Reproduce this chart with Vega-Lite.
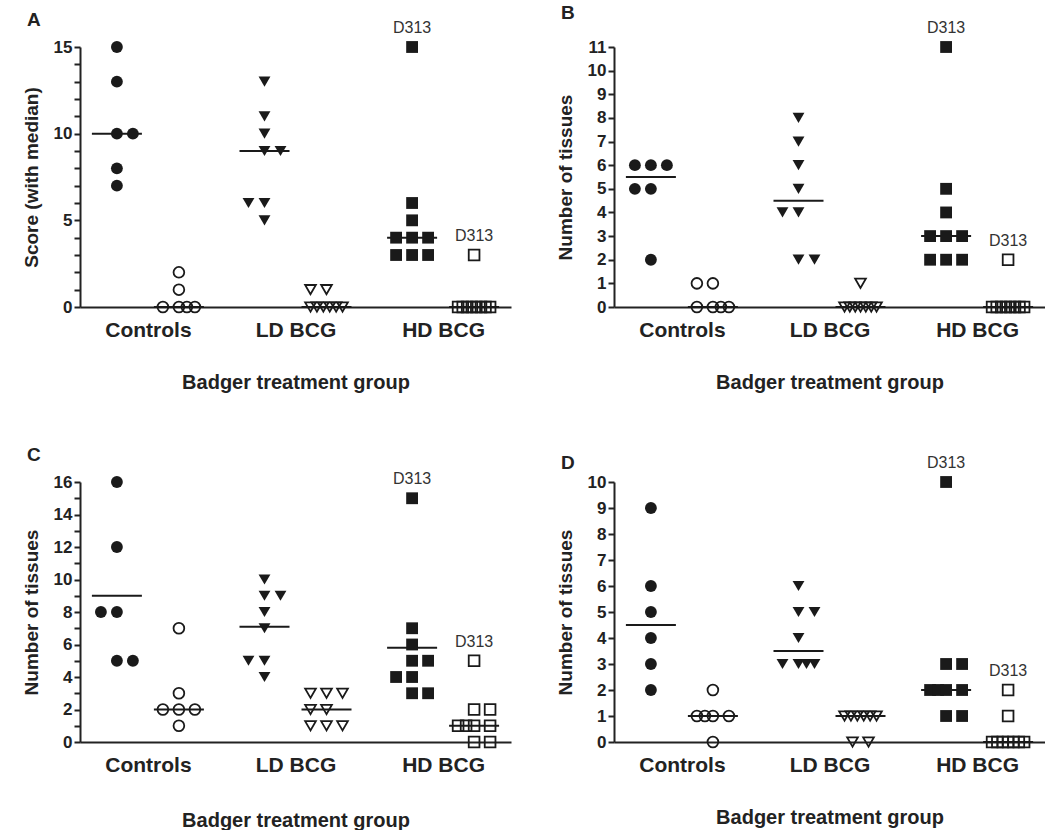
{
  "$schema": "https://vega.github.io/schema/vega-lite/v6.json",
  "padding": {"left": 22, "top": 4, "right": 0, "bottom": 0},
  "background": "white",
  "config": {
    "view": {"stroke": null},
    "axis": {"domainColor": "#222", "domainWidth": 2, "tickColor": "#222", "tickWidth": 2, "tickSize": 6, "labelFont": "Liberation Sans", "labelFontWeight": "bold", "labelColor": "#222", "titleFont": "Liberation Sans", "titleFontWeight": "bold", "titleColor": "#222", "grid": false},
    "title": {"font": "Liberation Sans", "fontWeight": "bold", "fontSize": 19, "anchor": "start", "frame": "group", "color": "#222", "dx": -53}
  },
  "datasets": {
    "points": [
      {"panel":"A","group":"Controls","subset":"s1","value":15,"tie":0},
      {"panel":"A","group":"Controls","subset":"s1","value":13,"tie":0},
      {"panel":"A","group":"Controls","subset":"s1","value":10,"tie":0},
      {"panel":"A","group":"Controls","subset":"s1","value":10,"tie":1},
      {"panel":"A","group":"Controls","subset":"s1","value":8,"tie":0},
      {"panel":"A","group":"Controls","subset":"s1","value":7,"tie":0},
      {"panel":"A","group":"Controls","subset":"s2","value":2,"tie":0},
      {"panel":"A","group":"Controls","subset":"s2","value":1,"tie":0},
      {"panel":"A","group":"Controls","subset":"s2","value":0,"tie":-1},
      {"panel":"A","group":"Controls","subset":"s2","value":0,"tie":0},
      {"panel":"A","group":"Controls","subset":"s2","value":0,"tie":0.5},
      {"panel":"A","group":"Controls","subset":"s2","value":0,"tie":1},
      {"panel":"A","group":"LD BCG","subset":"s1","value":13,"tie":0},
      {"panel":"A","group":"LD BCG","subset":"s1","value":11,"tie":0},
      {"panel":"A","group":"LD BCG","subset":"s1","value":10,"tie":0},
      {"panel":"A","group":"LD BCG","subset":"s1","value":9,"tie":0},
      {"panel":"A","group":"LD BCG","subset":"s1","value":9,"tie":1},
      {"panel":"A","group":"LD BCG","subset":"s1","value":6,"tie":-1},
      {"panel":"A","group":"LD BCG","subset":"s1","value":6,"tie":0},
      {"panel":"A","group":"LD BCG","subset":"s1","value":5,"tie":0},
      {"panel":"A","group":"LD BCG","subset":"s2","value":1,"tie":-1},
      {"panel":"A","group":"LD BCG","subset":"s2","value":1,"tie":0},
      {"panel":"A","group":"LD BCG","subset":"s2","value":0,"tie":-1},
      {"panel":"A","group":"LD BCG","subset":"s2","value":0,"tie":-0.6},
      {"panel":"A","group":"LD BCG","subset":"s2","value":0,"tie":-0.2},
      {"panel":"A","group":"LD BCG","subset":"s2","value":0,"tie":0.2},
      {"panel":"A","group":"LD BCG","subset":"s2","value":0,"tie":0.6},
      {"panel":"A","group":"LD BCG","subset":"s2","value":0,"tie":1},
      {"panel":"A","group":"HD BCG","subset":"s1","value":15,"tie":0,"animal":"D313"},
      {"panel":"A","group":"HD BCG","subset":"s1","value":6,"tie":0},
      {"panel":"A","group":"HD BCG","subset":"s1","value":5,"tie":0},
      {"panel":"A","group":"HD BCG","subset":"s1","value":4,"tie":-1},
      {"panel":"A","group":"HD BCG","subset":"s1","value":4,"tie":0},
      {"panel":"A","group":"HD BCG","subset":"s1","value":4,"tie":1},
      {"panel":"A","group":"HD BCG","subset":"s1","value":3,"tie":-1},
      {"panel":"A","group":"HD BCG","subset":"s1","value":3,"tie":0},
      {"panel":"A","group":"HD BCG","subset":"s1","value":3,"tie":1},
      {"panel":"A","group":"HD BCG","subset":"s2","value":3,"tie":0,"animal":"D313"},
      {"panel":"A","group":"HD BCG","subset":"s2","value":0,"tie":-1},
      {"panel":"A","group":"HD BCG","subset":"s2","value":0,"tie":-0.71},
      {"panel":"A","group":"HD BCG","subset":"s2","value":0,"tie":-0.43},
      {"panel":"A","group":"HD BCG","subset":"s2","value":0,"tie":-0.14},
      {"panel":"A","group":"HD BCG","subset":"s2","value":0,"tie":0.14},
      {"panel":"A","group":"HD BCG","subset":"s2","value":0,"tie":0.43},
      {"panel":"A","group":"HD BCG","subset":"s2","value":0,"tie":0.71},
      {"panel":"A","group":"HD BCG","subset":"s2","value":0,"tie":1},

      {"panel":"B","group":"Controls","subset":"s1","value":6,"tie":-1},
      {"panel":"B","group":"Controls","subset":"s1","value":6,"tie":0},
      {"panel":"B","group":"Controls","subset":"s1","value":6,"tie":1},
      {"panel":"B","group":"Controls","subset":"s1","value":5,"tie":-1},
      {"panel":"B","group":"Controls","subset":"s1","value":5,"tie":0},
      {"panel":"B","group":"Controls","subset":"s1","value":2,"tie":0},
      {"panel":"B","group":"Controls","subset":"s2","value":1,"tie":-1},
      {"panel":"B","group":"Controls","subset":"s2","value":1,"tie":0},
      {"panel":"B","group":"Controls","subset":"s2","value":0,"tie":-1},
      {"panel":"B","group":"Controls","subset":"s2","value":0,"tie":0},
      {"panel":"B","group":"Controls","subset":"s2","value":0,"tie":0.5},
      {"panel":"B","group":"Controls","subset":"s2","value":0,"tie":1},
      {"panel":"B","group":"LD BCG","subset":"s1","value":8,"tie":0},
      {"panel":"B","group":"LD BCG","subset":"s1","value":7,"tie":0},
      {"panel":"B","group":"LD BCG","subset":"s1","value":6,"tie":0},
      {"panel":"B","group":"LD BCG","subset":"s1","value":5,"tie":0},
      {"panel":"B","group":"LD BCG","subset":"s1","value":4,"tie":-1},
      {"panel":"B","group":"LD BCG","subset":"s1","value":4,"tie":0},
      {"panel":"B","group":"LD BCG","subset":"s1","value":2,"tie":0},
      {"panel":"B","group":"LD BCG","subset":"s1","value":2,"tie":1},
      {"panel":"B","group":"LD BCG","subset":"s2","value":1,"tie":0},
      {"panel":"B","group":"LD BCG","subset":"s2","value":0,"tie":-1},
      {"panel":"B","group":"LD BCG","subset":"s2","value":0,"tie":-0.67},
      {"panel":"B","group":"LD BCG","subset":"s2","value":0,"tie":-0.33},
      {"panel":"B","group":"LD BCG","subset":"s2","value":0,"tie":0},
      {"panel":"B","group":"LD BCG","subset":"s2","value":0,"tie":0.33},
      {"panel":"B","group":"LD BCG","subset":"s2","value":0,"tie":0.67},
      {"panel":"B","group":"LD BCG","subset":"s2","value":0,"tie":1},
      {"panel":"B","group":"HD BCG","subset":"s1","value":11,"tie":0,"animal":"D313"},
      {"panel":"B","group":"HD BCG","subset":"s1","value":5,"tie":0},
      {"panel":"B","group":"HD BCG","subset":"s1","value":4,"tie":0},
      {"panel":"B","group":"HD BCG","subset":"s1","value":3,"tie":-1},
      {"panel":"B","group":"HD BCG","subset":"s1","value":3,"tie":0},
      {"panel":"B","group":"HD BCG","subset":"s1","value":3,"tie":1},
      {"panel":"B","group":"HD BCG","subset":"s1","value":2,"tie":-1},
      {"panel":"B","group":"HD BCG","subset":"s1","value":2,"tie":0},
      {"panel":"B","group":"HD BCG","subset":"s1","value":2,"tie":1},
      {"panel":"B","group":"HD BCG","subset":"s2","value":2,"tie":0,"animal":"D313"},
      {"panel":"B","group":"HD BCG","subset":"s2","value":0,"tie":-1},
      {"panel":"B","group":"HD BCG","subset":"s2","value":0,"tie":-0.71},
      {"panel":"B","group":"HD BCG","subset":"s2","value":0,"tie":-0.43},
      {"panel":"B","group":"HD BCG","subset":"s2","value":0,"tie":-0.14},
      {"panel":"B","group":"HD BCG","subset":"s2","value":0,"tie":0.14},
      {"panel":"B","group":"HD BCG","subset":"s2","value":0,"tie":0.43},
      {"panel":"B","group":"HD BCG","subset":"s2","value":0,"tie":0.71},
      {"panel":"B","group":"HD BCG","subset":"s2","value":0,"tie":1},

      {"panel":"C","group":"Controls","subset":"s1","value":16,"tie":0},
      {"panel":"C","group":"Controls","subset":"s1","value":12,"tie":0},
      {"panel":"C","group":"Controls","subset":"s1","value":8,"tie":-1},
      {"panel":"C","group":"Controls","subset":"s1","value":8,"tie":0},
      {"panel":"C","group":"Controls","subset":"s1","value":5,"tie":0},
      {"panel":"C","group":"Controls","subset":"s1","value":5,"tie":1},
      {"panel":"C","group":"Controls","subset":"s2","value":7,"tie":0},
      {"panel":"C","group":"Controls","subset":"s2","value":3,"tie":0},
      {"panel":"C","group":"Controls","subset":"s2","value":2,"tie":-1},
      {"panel":"C","group":"Controls","subset":"s2","value":2,"tie":0},
      {"panel":"C","group":"Controls","subset":"s2","value":2,"tie":1},
      {"panel":"C","group":"Controls","subset":"s2","value":1,"tie":0},
      {"panel":"C","group":"LD BCG","subset":"s1","value":10,"tie":0},
      {"panel":"C","group":"LD BCG","subset":"s1","value":9,"tie":0},
      {"panel":"C","group":"LD BCG","subset":"s1","value":9,"tie":1},
      {"panel":"C","group":"LD BCG","subset":"s1","value":8,"tie":0},
      {"panel":"C","group":"LD BCG","subset":"s1","value":7,"tie":0},
      {"panel":"C","group":"LD BCG","subset":"s1","value":5,"tie":-1},
      {"panel":"C","group":"LD BCG","subset":"s1","value":5,"tie":0},
      {"panel":"C","group":"LD BCG","subset":"s1","value":4,"tie":0},
      {"panel":"C","group":"LD BCG","subset":"s2","value":3,"tie":-1},
      {"panel":"C","group":"LD BCG","subset":"s2","value":3,"tie":0},
      {"panel":"C","group":"LD BCG","subset":"s2","value":3,"tie":1},
      {"panel":"C","group":"LD BCG","subset":"s2","value":2,"tie":-1},
      {"panel":"C","group":"LD BCG","subset":"s2","value":2,"tie":0},
      {"panel":"C","group":"LD BCG","subset":"s2","value":1,"tie":-1},
      {"panel":"C","group":"LD BCG","subset":"s2","value":1,"tie":0},
      {"panel":"C","group":"LD BCG","subset":"s2","value":1,"tie":1},
      {"panel":"C","group":"HD BCG","subset":"s1","value":15,"tie":0,"animal":"D313"},
      {"panel":"C","group":"HD BCG","subset":"s1","value":7,"tie":0},
      {"panel":"C","group":"HD BCG","subset":"s1","value":6,"tie":0},
      {"panel":"C","group":"HD BCG","subset":"s1","value":5,"tie":0},
      {"panel":"C","group":"HD BCG","subset":"s1","value":5,"tie":1},
      {"panel":"C","group":"HD BCG","subset":"s1","value":4,"tie":-1},
      {"panel":"C","group":"HD BCG","subset":"s1","value":4,"tie":0},
      {"panel":"C","group":"HD BCG","subset":"s1","value":3,"tie":0},
      {"panel":"C","group":"HD BCG","subset":"s1","value":3,"tie":1},
      {"panel":"C","group":"HD BCG","subset":"s2","value":5,"tie":0,"animal":"D313"},
      {"panel":"C","group":"HD BCG","subset":"s2","value":2,"tie":0},
      {"panel":"C","group":"HD BCG","subset":"s2","value":2,"tie":1},
      {"panel":"C","group":"HD BCG","subset":"s2","value":1,"tie":-1},
      {"panel":"C","group":"HD BCG","subset":"s2","value":1,"tie":-0.5},
      {"panel":"C","group":"HD BCG","subset":"s2","value":1,"tie":0},
      {"panel":"C","group":"HD BCG","subset":"s2","value":1,"tie":1},
      {"panel":"C","group":"HD BCG","subset":"s2","value":0,"tie":0},
      {"panel":"C","group":"HD BCG","subset":"s2","value":0,"tie":1},

      {"panel":"D","group":"Controls","subset":"s1","value":9,"tie":0},
      {"panel":"D","group":"Controls","subset":"s1","value":6,"tie":0},
      {"panel":"D","group":"Controls","subset":"s1","value":5,"tie":0},
      {"panel":"D","group":"Controls","subset":"s1","value":4,"tie":0},
      {"panel":"D","group":"Controls","subset":"s1","value":3,"tie":0},
      {"panel":"D","group":"Controls","subset":"s1","value":2,"tie":0},
      {"panel":"D","group":"Controls","subset":"s2","value":2,"tie":0},
      {"panel":"D","group":"Controls","subset":"s2","value":1,"tie":-1},
      {"panel":"D","group":"Controls","subset":"s2","value":1,"tie":-0.5},
      {"panel":"D","group":"Controls","subset":"s2","value":1,"tie":0},
      {"panel":"D","group":"Controls","subset":"s2","value":1,"tie":1},
      {"panel":"D","group":"Controls","subset":"s2","value":0,"tie":0},
      {"panel":"D","group":"LD BCG","subset":"s1","value":6,"tie":0},
      {"panel":"D","group":"LD BCG","subset":"s1","value":5,"tie":0},
      {"panel":"D","group":"LD BCG","subset":"s1","value":5,"tie":1},
      {"panel":"D","group":"LD BCG","subset":"s1","value":4,"tie":0},
      {"panel":"D","group":"LD BCG","subset":"s1","value":3,"tie":-1},
      {"panel":"D","group":"LD BCG","subset":"s1","value":3,"tie":0},
      {"panel":"D","group":"LD BCG","subset":"s1","value":3,"tie":0.5},
      {"panel":"D","group":"LD BCG","subset":"s1","value":3,"tie":1},
      {"panel":"D","group":"LD BCG","subset":"s2","value":1,"tie":-1},
      {"panel":"D","group":"LD BCG","subset":"s2","value":1,"tie":-0.6},
      {"panel":"D","group":"LD BCG","subset":"s2","value":1,"tie":-0.2},
      {"panel":"D","group":"LD BCG","subset":"s2","value":1,"tie":0.2},
      {"panel":"D","group":"LD BCG","subset":"s2","value":1,"tie":0.6},
      {"panel":"D","group":"LD BCG","subset":"s2","value":1,"tie":1},
      {"panel":"D","group":"LD BCG","subset":"s2","value":0,"tie":-0.5},
      {"panel":"D","group":"LD BCG","subset":"s2","value":0,"tie":0.5},
      {"panel":"D","group":"HD BCG","subset":"s1","value":10,"tie":0,"animal":"D313"},
      {"panel":"D","group":"HD BCG","subset":"s1","value":3,"tie":0},
      {"panel":"D","group":"HD BCG","subset":"s1","value":3,"tie":1},
      {"panel":"D","group":"HD BCG","subset":"s1","value":2,"tie":-1},
      {"panel":"D","group":"HD BCG","subset":"s1","value":2,"tie":-0.5},
      {"panel":"D","group":"HD BCG","subset":"s1","value":2,"tie":0},
      {"panel":"D","group":"HD BCG","subset":"s1","value":2,"tie":1},
      {"panel":"D","group":"HD BCG","subset":"s1","value":1,"tie":0},
      {"panel":"D","group":"HD BCG","subset":"s1","value":1,"tie":1},
      {"panel":"D","group":"HD BCG","subset":"s2","value":2,"tie":0,"animal":"D313"},
      {"panel":"D","group":"HD BCG","subset":"s2","value":1,"tie":0},
      {"panel":"D","group":"HD BCG","subset":"s2","value":0,"tie":-1},
      {"panel":"D","group":"HD BCG","subset":"s2","value":0,"tie":-0.67},
      {"panel":"D","group":"HD BCG","subset":"s2","value":0,"tie":-0.33},
      {"panel":"D","group":"HD BCG","subset":"s2","value":0,"tie":0},
      {"panel":"D","group":"HD BCG","subset":"s2","value":0,"tie":0.33},
      {"panel":"D","group":"HD BCG","subset":"s2","value":0,"tie":0.67},
      {"panel":"D","group":"HD BCG","subset":"s2","value":0,"tie":1}
    ],
    "centers": [
      {"panel":"A","group":"Controls","subset":"s1","value":10},
      {"panel":"A","group":"Controls","subset":"s2","value":0},
      {"panel":"A","group":"LD BCG","subset":"s1","value":9},
      {"panel":"A","group":"LD BCG","subset":"s2","value":0},
      {"panel":"A","group":"HD BCG","subset":"s1","value":4},
      {"panel":"A","group":"HD BCG","subset":"s2","value":0},
      {"panel":"B","group":"Controls","subset":"s1","value":5.5},
      {"panel":"B","group":"Controls","subset":"s2","value":0},
      {"panel":"B","group":"LD BCG","subset":"s1","value":4.5},
      {"panel":"B","group":"LD BCG","subset":"s2","value":0},
      {"panel":"B","group":"HD BCG","subset":"s1","value":3},
      {"panel":"B","group":"HD BCG","subset":"s2","value":0},
      {"panel":"C","group":"Controls","subset":"s1","value":9},
      {"panel":"C","group":"Controls","subset":"s2","value":2},
      {"panel":"C","group":"LD BCG","subset":"s1","value":7.1},
      {"panel":"C","group":"LD BCG","subset":"s2","value":2},
      {"panel":"C","group":"HD BCG","subset":"s1","value":5.8},
      {"panel":"C","group":"HD BCG","subset":"s2","value":1},
      {"panel":"D","group":"Controls","subset":"s1","value":4.5},
      {"panel":"D","group":"Controls","subset":"s2","value":1},
      {"panel":"D","group":"LD BCG","subset":"s1","value":3.5},
      {"panel":"D","group":"LD BCG","subset":"s2","value":1},
      {"panel":"D","group":"HD BCG","subset":"s1","value":2},
      {"panel":"D","group":"HD BCG","subset":"s2","value":0}
    ]
  },
  "columns": 2,
  "bounds": "flush",
  "spacing": {"row": 175, "column": 103},
  "concat": [
    {
      "width": 431, "height": 260,
      "title": {"text": "A", "offset": -10},
      "encoding": {
        "x": {"field": "group", "type": "nominal", "scale": {"type": "point", "domain": ["Controls", "LD BCG", "HD BCG"], "padding": 0.46}, "axis": {"title": "Badger treatment group", "ticks": false, "labelAngle": 0, "labelFontSize": 21, "labelPadding": 12, "titleFontSize": 20, "titlePadding": 32}},
        "y": {"field": "value", "type": "quantitative", "scale": {"domain": [0, 15], "nice": false}, "axis": {"title": "Score (with median)", "values": [0,1,2,3,4,5,6,7,8,9,10,11,12,13,14,15], "labelExpr": "datum.value % 5 === 0 ? datum.label : ''", "labelFontSize": 17, "titleFontSize": 19, "titlePadding": 12}}
      },
      "layer": [
        {"layer": [
          {"data": {"name": "centers"}, "transform": [{"filter": "datum.panel === 'A' && datum.subset === 's1'"}], "mark": {"type": "tick", "orient": "horizontal", "size": 50, "thickness": 2, "color": "#1a1a1a", "opacity": 1}, "encoding": {"xOffset": {"datum": 0, "type": "quantitative", "scale": {"domain": [-2, 2], "range": [-63, 1]}}}},
          {"data": {"name": "points"}, "transform": [{"filter": "datum.panel === 'A' && datum.subset === 's1'"}], "mark": {"type": "point", "filled": true, "size": 140, "color": "#1a1a1a", "opacity": 1}, "encoding": {"xOffset": {"field": "tie", "type": "quantitative", "scale": {"domain": [-2, 2], "range": [-63, 1]}}, "shape": {"field": "group", "type": "nominal", "scale": {"domain": ["Controls", "LD BCG", "HD BCG"], "range": ["circle", "triangle-down", "square"]}, "legend": null}}},
          {"data": {"name": "points"}, "transform": [{"filter": "datum.panel === 'A' && datum.subset === 's1' && datum.animal"}], "mark": {"type": "text", "dy": -14, "font": "Liberation Sans", "fontSize": 16, "color": "#333", "baseline": "alphabetic"}, "encoding": {"xOffset": {"field": "tie", "type": "quantitative", "scale": {"domain": [-2, 2], "range": [-63, 1]}}, "text": {"field": "animal"}}}
        ]},
        {"layer": [
          {"data": {"name": "centers"}, "transform": [{"filter": "datum.panel === 'A' && datum.subset === 's2'"}], "mark": {"type": "tick", "orient": "horizontal", "size": 50, "thickness": 2, "color": "#1a1a1a", "opacity": 1}, "encoding": {"xOffset": {"datum": 0, "type": "quantitative", "scale": {"domain": [-2, 2], "range": [-1, 63]}}}},
          {"data": {"name": "points"}, "transform": [{"filter": "datum.panel === 'A' && datum.subset === 's2'"}], "mark": {"type": "point", "filled": false, "size": 115, "strokeWidth": 1.8, "color": "#1a1a1a", "fill": "white", "fillOpacity": 0, "opacity": 1}, "encoding": {"xOffset": {"field": "tie", "type": "quantitative", "scale": {"domain": [-2, 2], "range": [-1, 63]}}, "shape": {"field": "group", "type": "nominal", "scale": {"domain": ["Controls", "LD BCG", "HD BCG"], "range": ["circle", "triangle-down", "square"]}, "legend": null}}},
          {"data": {"name": "points"}, "transform": [{"filter": "datum.panel === 'A' && datum.subset === 's2' && datum.animal"}], "mark": {"type": "text", "dy": -14, "font": "Liberation Sans", "fontSize": 16, "color": "#333", "baseline": "alphabetic"}, "encoding": {"xOffset": {"field": "tie", "type": "quantitative", "scale": {"domain": [-2, 2], "range": [-1, 63]}}, "text": {"field": "animal"}}}
        ]}
      ],
      "resolve": {"scale": {"xOffset": "independent"}}
    },
    {
      "width": 431, "height": 260,
      "title": {"text": "B", "offset": -3},
      "encoding": {
        "x": {"field": "group", "type": "nominal", "scale": {"type": "point", "domain": ["Controls", "LD BCG", "HD BCG"], "padding": 0.46}, "axis": {"title": "Badger treatment group", "ticks": false, "labelAngle": 0, "labelFontSize": 21, "labelPadding": 12, "titleFontSize": 20, "titlePadding": 32}},
        "y": {"field": "value", "type": "quantitative", "scale": {"domain": [0, 11], "nice": false}, "axis": {"title": "Number of tissues", "values": [0,1,2,3,4,5,6,7,8,9,10,11], "labelFontSize": 17, "titleFontSize": 19, "titlePadding": 12}}
      },
      "layer": [
        {"layer": [
          {"data": {"name": "centers"}, "transform": [{"filter": "datum.panel === 'B' && datum.subset === 's1'"}], "mark": {"type": "tick", "orient": "horizontal", "size": 50, "thickness": 2, "color": "#1a1a1a", "opacity": 1}, "encoding": {"xOffset": {"datum": 0, "type": "quantitative", "scale": {"domain": [-2, 2], "range": [-63, 1]}}}},
          {"data": {"name": "points"}, "transform": [{"filter": "datum.panel === 'B' && datum.subset === 's1'"}], "mark": {"type": "point", "filled": true, "size": 140, "color": "#1a1a1a", "opacity": 1}, "encoding": {"xOffset": {"field": "tie", "type": "quantitative", "scale": {"domain": [-2, 2], "range": [-63, 1]}}, "shape": {"field": "group", "type": "nominal", "scale": {"domain": ["Controls", "LD BCG", "HD BCG"], "range": ["circle", "triangle-down", "square"]}, "legend": null}}},
          {"data": {"name": "points"}, "transform": [{"filter": "datum.panel === 'B' && datum.subset === 's1' && datum.animal"}], "mark": {"type": "text", "dy": -14, "font": "Liberation Sans", "fontSize": 16, "color": "#333", "baseline": "alphabetic"}, "encoding": {"xOffset": {"field": "tie", "type": "quantitative", "scale": {"domain": [-2, 2], "range": [-63, 1]}}, "text": {"field": "animal"}}}
        ]},
        {"layer": [
          {"data": {"name": "centers"}, "transform": [{"filter": "datum.panel === 'B' && datum.subset === 's2'"}], "mark": {"type": "tick", "orient": "horizontal", "size": 50, "thickness": 2, "color": "#1a1a1a", "opacity": 1}, "encoding": {"xOffset": {"datum": 0, "type": "quantitative", "scale": {"domain": [-2, 2], "range": [-1, 63]}}}},
          {"data": {"name": "points"}, "transform": [{"filter": "datum.panel === 'B' && datum.subset === 's2'"}], "mark": {"type": "point", "filled": false, "size": 115, "strokeWidth": 1.8, "color": "#1a1a1a", "fill": "white", "fillOpacity": 0, "opacity": 1}, "encoding": {"xOffset": {"field": "tie", "type": "quantitative", "scale": {"domain": [-2, 2], "range": [-1, 63]}}, "shape": {"field": "group", "type": "nominal", "scale": {"domain": ["Controls", "LD BCG", "HD BCG"], "range": ["circle", "triangle-down", "square"]}, "legend": null}}},
          {"data": {"name": "points"}, "transform": [{"filter": "datum.panel === 'B' && datum.subset === 's2' && datum.animal"}], "mark": {"type": "text", "dy": -14, "font": "Liberation Sans", "fontSize": 16, "color": "#333", "baseline": "alphabetic"}, "encoding": {"xOffset": {"field": "tie", "type": "quantitative", "scale": {"domain": [-2, 2], "range": [-1, 63]}}, "text": {"field": "animal"}}}
        ]}
      ],
      "resolve": {"scale": {"xOffset": "independent"}}
    },
    {
      "width": 431, "height": 260,
      "title": {"text": "C", "offset": 6},
      "encoding": {
        "x": {"field": "group", "type": "nominal", "scale": {"type": "point", "domain": ["Controls", "LD BCG", "HD BCG"], "padding": 0.46}, "axis": {"title": "Badger treatment group", "ticks": false, "labelAngle": 0, "labelFontSize": 21, "labelPadding": 12, "titleFontSize": 20, "titlePadding": 35}},
        "y": {"field": "value", "type": "quantitative", "scale": {"domain": [0, 16], "nice": false}, "axis": {"title": "Number of tissues", "values": [0,1,2,3,4,5,6,7,8,9,10,11,12,13,14,15,16], "labelExpr": "datum.value % 2 === 0 ? datum.label : ''", "labelFontSize": 17, "titleFontSize": 19, "titlePadding": 12}}
      },
      "layer": [
        {"layer": [
          {"data": {"name": "centers"}, "transform": [{"filter": "datum.panel === 'C' && datum.subset === 's1'"}], "mark": {"type": "tick", "orient": "horizontal", "size": 50, "thickness": 2, "color": "#1a1a1a", "opacity": 1}, "encoding": {"xOffset": {"datum": 0, "type": "quantitative", "scale": {"domain": [-2, 2], "range": [-63, 1]}}}},
          {"data": {"name": "points"}, "transform": [{"filter": "datum.panel === 'C' && datum.subset === 's1'"}], "mark": {"type": "point", "filled": true, "size": 140, "color": "#1a1a1a", "opacity": 1}, "encoding": {"xOffset": {"field": "tie", "type": "quantitative", "scale": {"domain": [-2, 2], "range": [-63, 1]}}, "shape": {"field": "group", "type": "nominal", "scale": {"domain": ["Controls", "LD BCG", "HD BCG"], "range": ["circle", "triangle-down", "square"]}, "legend": null}}},
          {"data": {"name": "points"}, "transform": [{"filter": "datum.panel === 'C' && datum.subset === 's1' && datum.animal"}], "mark": {"type": "text", "dy": -14, "font": "Liberation Sans", "fontSize": 16, "color": "#333", "baseline": "alphabetic"}, "encoding": {"xOffset": {"field": "tie", "type": "quantitative", "scale": {"domain": [-2, 2], "range": [-63, 1]}}, "text": {"field": "animal"}}}
        ]},
        {"layer": [
          {"data": {"name": "centers"}, "transform": [{"filter": "datum.panel === 'C' && datum.subset === 's2'"}], "mark": {"type": "tick", "orient": "horizontal", "size": 50, "thickness": 2, "color": "#1a1a1a", "opacity": 1}, "encoding": {"xOffset": {"datum": 0, "type": "quantitative", "scale": {"domain": [-2, 2], "range": [-1, 63]}}}},
          {"data": {"name": "points"}, "transform": [{"filter": "datum.panel === 'C' && datum.subset === 's2'"}], "mark": {"type": "point", "filled": false, "size": 115, "strokeWidth": 1.8, "color": "#1a1a1a", "fill": "white", "fillOpacity": 0, "opacity": 1}, "encoding": {"xOffset": {"field": "tie", "type": "quantitative", "scale": {"domain": [-2, 2], "range": [-1, 63]}}, "shape": {"field": "group", "type": "nominal", "scale": {"domain": ["Controls", "LD BCG", "HD BCG"], "range": ["circle", "triangle-down", "square"]}, "legend": null}}},
          {"data": {"name": "points"}, "transform": [{"filter": "datum.panel === 'C' && datum.subset === 's2' && datum.animal"}], "mark": {"type": "text", "dy": -14, "font": "Liberation Sans", "fontSize": 16, "color": "#333", "baseline": "alphabetic"}, "encoding": {"xOffset": {"field": "tie", "type": "quantitative", "scale": {"domain": [-2, 2], "range": [-1, 63]}}, "text": {"field": "animal"}}}
        ]}
      ],
      "resolve": {"scale": {"xOffset": "independent"}}
    },
    {
      "width": 431, "height": 260,
      "title": {"text": "D", "offset": -18},
      "encoding": {
        "x": {"field": "group", "type": "nominal", "scale": {"type": "point", "domain": ["Controls", "LD BCG", "HD BCG"], "padding": 0.46}, "axis": {"title": "Badger treatment group", "ticks": false, "labelAngle": 0, "labelFontSize": 21, "labelPadding": 12, "titleFontSize": 20, "titlePadding": 32}},
        "y": {"field": "value", "type": "quantitative", "scale": {"domain": [0, 10], "nice": false}, "axis": {"title": "Number of tissues", "values": [0,1,2,3,4,5,6,7,8,9,10], "labelFontSize": 17, "titleFontSize": 19, "titlePadding": 12}}
      },
      "layer": [
        {"layer": [
          {"data": {"name": "centers"}, "transform": [{"filter": "datum.panel === 'D' && datum.subset === 's1'"}], "mark": {"type": "tick", "orient": "horizontal", "size": 50, "thickness": 2, "color": "#1a1a1a", "opacity": 1}, "encoding": {"xOffset": {"datum": 0, "type": "quantitative", "scale": {"domain": [-2, 2], "range": [-63, 1]}}}},
          {"data": {"name": "points"}, "transform": [{"filter": "datum.panel === 'D' && datum.subset === 's1'"}], "mark": {"type": "point", "filled": true, "size": 140, "color": "#1a1a1a", "opacity": 1}, "encoding": {"xOffset": {"field": "tie", "type": "quantitative", "scale": {"domain": [-2, 2], "range": [-63, 1]}}, "shape": {"field": "group", "type": "nominal", "scale": {"domain": ["Controls", "LD BCG", "HD BCG"], "range": ["circle", "triangle-down", "square"]}, "legend": null}}},
          {"data": {"name": "points"}, "transform": [{"filter": "datum.panel === 'D' && datum.subset === 's1' && datum.animal"}], "mark": {"type": "text", "dy": -14, "font": "Liberation Sans", "fontSize": 16, "color": "#333", "baseline": "alphabetic"}, "encoding": {"xOffset": {"field": "tie", "type": "quantitative", "scale": {"domain": [-2, 2], "range": [-63, 1]}}, "text": {"field": "animal"}}}
        ]},
        {"layer": [
          {"data": {"name": "centers"}, "transform": [{"filter": "datum.panel === 'D' && datum.subset === 's2'"}], "mark": {"type": "tick", "orient": "horizontal", "size": 50, "thickness": 2, "color": "#1a1a1a", "opacity": 1}, "encoding": {"xOffset": {"datum": 0, "type": "quantitative", "scale": {"domain": [-2, 2], "range": [-1, 63]}}}},
          {"data": {"name": "points"}, "transform": [{"filter": "datum.panel === 'D' && datum.subset === 's2'"}], "mark": {"type": "point", "filled": false, "size": 115, "strokeWidth": 1.8, "color": "#1a1a1a", "fill": "white", "fillOpacity": 0, "opacity": 1}, "encoding": {"xOffset": {"field": "tie", "type": "quantitative", "scale": {"domain": [-2, 2], "range": [-1, 63]}}, "shape": {"field": "group", "type": "nominal", "scale": {"domain": ["Controls", "LD BCG", "HD BCG"], "range": ["circle", "triangle-down", "square"]}, "legend": null}}},
          {"data": {"name": "points"}, "transform": [{"filter": "datum.panel === 'D' && datum.subset === 's2' && datum.animal"}], "mark": {"type": "text", "dy": -14, "font": "Liberation Sans", "fontSize": 16, "color": "#333", "baseline": "alphabetic"}, "encoding": {"xOffset": {"field": "tie", "type": "quantitative", "scale": {"domain": [-2, 2], "range": [-1, 63]}}, "text": {"field": "animal"}}}
        ]}
      ],
      "resolve": {"scale": {"xOffset": "independent"}}
    }
  ]
}
